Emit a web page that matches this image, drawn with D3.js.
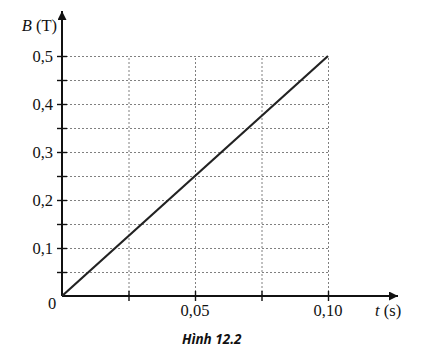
<!DOCTYPE html>
<html>
<head>
<meta charset="utf-8">
<script src="https://cdn.jsdelivr.net/npm/d3@7"></script>
<style>
  html, body { margin: 0; padding: 0; background: #fff; }
  svg { display: block; }
</style>
</head>
<body>
<svg id="chart" width="427" height="357"></svg>
<script>
// data
const tValues = [0, 0.10];
const bValues = [0, 0.5];
const xTicks = [0.025, 0.05, 0.075, 0.10];
const xTickLabels = ["", "0,05", "", "0,10"];
const yTicks = [0.05, 0.1, 0.15, 0.2, 0.25, 0.3, 0.35, 0.4, 0.45, 0.5];
const yTickLabels = ["", "0,1", "", "0,2", "", "0,3", "", "0,4", "", "0,5"];

const svg = d3.select("#chart");
const serif = "'Liberation Serif', 'DejaVu Serif', serif";
const fontSize = "16.5px";

const x = d3.scaleLinear().domain([0, 0.10]).range([62, 328]);
const y = d3.scaleLinear().domain([0, 0.5]).range([296, 56]);

/* dotted grid */
const grid = svg.append("g")
    .attr("stroke", "#808080")
    .attr("stroke-width", 1)
    .attr("stroke-dasharray", "2,2");

grid.selectAll(".hgrid")
    .data(yTicks)
    .enter().append("line")
    .attr("class", "hgrid")
    .attr("x1", x(0)).attr("x2", x(0.10))
    .attr("y1", d => y(d) + 0.5).attr("y2", d => y(d) + 0.5);

grid.selectAll(".vgrid")
    .data(xTicks)
    .enter().append("line")
    .attr("class", "vgrid")
    .attr("x1", d => x(d) + 0.5).attr("x2", d => x(d) + 0.5)
    .attr("y1", y(0)).attr("y2", y(0.5));

/* axes with ticks crossing the axis line */
const yAxis = d3.axisLeft(y).tickValues(yTicks).tickSize(5).tickFormat("");
const yAxisGroup = svg.append("g").attr("transform", `translate(${x(0)},0)`).call(yAxis);
yAxisGroup.select(".domain").remove();
yAxisGroup.selectAll(".tick line").attr("x1", 5).attr("stroke", "#111").attr("stroke-width", 1.4);

const xAxis = d3.axisBottom(x).tickValues(xTicks).tickSize(5).tickFormat("");
const xAxisGroup = svg.append("g").attr("transform", `translate(0,${y(0)})`).call(xAxis);
xAxisGroup.select(".domain").remove();
xAxisGroup.selectAll(".tick line").attr("y1", -5).attr("stroke", "#111").attr("stroke-width", 1.4);

/* axis lines with arrows */
svg.append("defs").append("marker")
    .attr("id", "arrow")
    .attr("viewBox", "0 0 10 10")
    .attr("refX", 10).attr("refY", 5)
    .attr("markerWidth", 7).attr("markerHeight", 4.5)
    .attr("markerUnits", "strokeWidth")
    .attr("orient", "auto")
    .append("path")
    .attr("d", "M0,0L10,5L0,10Z")
    .attr("fill", "#111");

svg.append("line")
    .attr("x1", x(0)).attr("y1", y(0)).attr("x2", x(0)).attr("y2", 11)
    .attr("stroke", "#111").attr("stroke-width", 2)
    .attr("marker-end", "url(#arrow)");

svg.append("line")
    .attr("x1", x(0)).attr("y1", y(0)).attr("x2", 398).attr("y2", y(0))
    .attr("stroke", "#111").attr("stroke-width", 2)
    .attr("marker-end", "url(#arrow)");

/* B(t) line */
const line = d3.line().x((d, i) => x(tValues[i])).y(d => y(d));
svg.append("path")
    .datum(bValues)
    .attr("d", line)
    .attr("fill", "none")
    .attr("stroke", "#222")
    .attr("stroke-width", 2.2);

/* tick labels */
svg.selectAll(".ylabel")
    .data(yTicks)
    .enter().append("text")
    .attr("class", "ylabel")
    .attr("x", 53)
    .attr("y", d => y(d) + 5.5)
    .attr("text-anchor", "end")
    .style("font-family", serif)
    .style("font-size", fontSize)
    .attr("fill", "#111")
    .text((d, i) => yTickLabels[i]);

svg.selectAll(".xlabel")
    .data(xTicks)
    .enter().append("text")
    .attr("class", "xlabel")
    .attr("x", d => x(d))
    .attr("y", 316)
    .attr("text-anchor", "middle")
    .style("font-family", serif)
    .style("font-size", fontSize)
    .attr("fill", "#111")
    .text((d, i) => xTickLabels[i]);

svg.append("text")
    .attr("x", 52).attr("y", 309)
    .attr("text-anchor", "middle")
    .style("font-family", serif).style("font-size", fontSize)
    .attr("fill", "#111")
    .text("0");

/* axis titles */
const bTitle = svg.append("text")
    .attr("x", 57).attr("y", 31)
    .attr("text-anchor", "end")
    .style("font-family", serif).style("font-size", fontSize)
    .attr("fill", "#111");
bTitle.append("tspan").style("font-style", "italic").text("B");
bTitle.append("tspan").text(" (T)");

const tTitle = svg.append("text")
    .attr("x", 375).attr("y", 316)
    .style("font-family", serif).style("font-size", fontSize)
    .attr("fill", "#111");
tTitle.append("tspan").style("font-style", "italic").text("t");
tTitle.append("tspan").text(" (s)");

/* caption */
svg.append("text")
    .attr("x", 182).attr("y", 344)
    .style("font-family", "'Open Sans', 'Liberation Sans', sans-serif")
    .style("font-size", "13.5px")
    .style("font-weight", "bold")
    .style("font-style", "italic")
    .attr("fill", "#111")
    .text("Hình 12.2");
</script>
</body>
</html>
